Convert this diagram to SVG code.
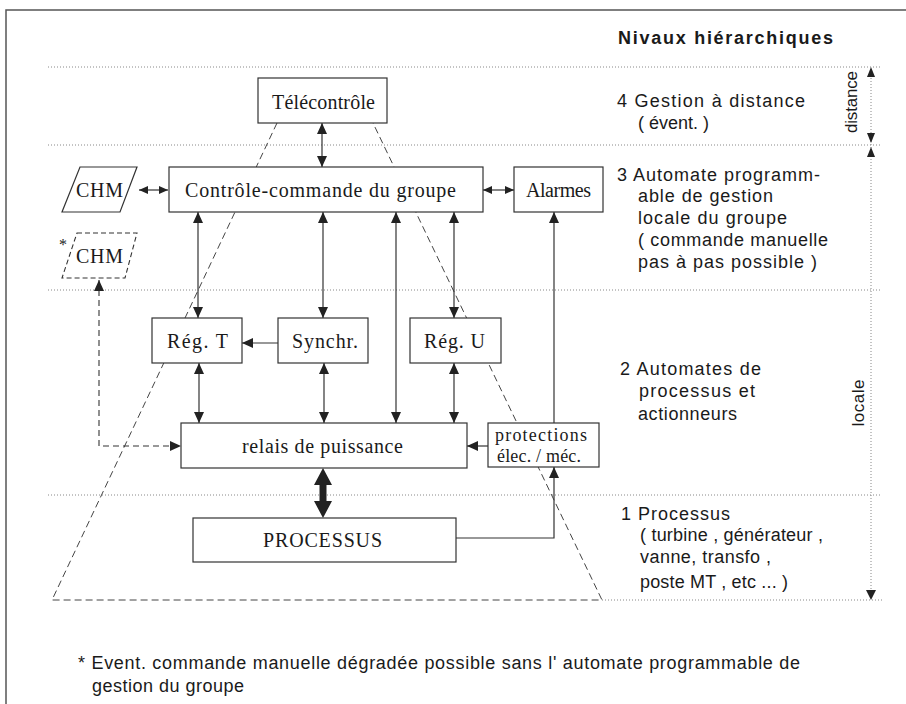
<svg xmlns="http://www.w3.org/2000/svg" width="906" height="704" viewBox="0 0 906 704">
<style>
.bg{fill:#fff}
.frame{fill:none;stroke:#555;stroke-width:1.5}
.dot{fill:none;stroke:#888;stroke-width:1;stroke-dasharray:1 2}
.dash{fill:none;stroke:#444;stroke-width:1;stroke-dasharray:7 4}
.box{fill:#fff;stroke:#333;stroke-width:1.2}
.dbox{fill:#fff;stroke:#333;stroke-width:1.1;stroke-dasharray:5 3}
.ln{fill:none;stroke:#333;stroke-width:1.2}
.dln{fill:none;stroke:#333;stroke-width:1.1;stroke-dasharray:6 4}
.hd{fill:#222}
.serif{font-family:"Liberation Serif","Times New Roman",serif;font-size:20px;fill:#1a1a1a}
.small{font-size:18px}
.sans{font-family:"Liberation Sans",Arial,sans-serif;font-size:18px;fill:#1a1a1a}
.title{font-family:"Liberation Sans",Arial,sans-serif;font-size:18px;font-weight:bold;fill:#1a1a1a}
.rot{font-family:"Liberation Sans",Arial,sans-serif;font-size:17px;fill:#1a1a1a;text-anchor:middle}
</style>
<defs>
<marker id="ah" viewBox="0 0 11 10" markerWidth="11" markerHeight="10" refX="11" refY="5" orient="auto-start-reverse" markerUnits="userSpaceOnUse">
<path d="M0,0 L11,5 L0,10 Z" fill="#222"/>
</marker>
<marker id="ahs" viewBox="0 0 9 8" markerWidth="9" markerHeight="8" refX="9" refY="4" orient="auto-start-reverse" markerUnits="userSpaceOnUse">
<path d="M0,0 L9,4 L0,8 Z" fill="#222"/>
</marker>
</defs>
<rect class="bg" x="0" y="0" width="906" height="704"/>
<g id="frame">
<path class="frame" d="M6,704 L6,10 L906,10"/>
</g>
<g id="levels">
<line class="dot" x1="48" y1="67" x2="880" y2="67"/>
<line class="dot" x1="48" y1="145" x2="880" y2="145"/>
<line class="dot" x1="48" y1="290" x2="880" y2="290"/>
<line class="dot" x1="48" y1="495" x2="882" y2="495"/>
<line class="dot" x1="602" y1="600" x2="882" y2="600"/>
<line class="dot" x1="871" y1="72" x2="871" y2="596"/>
<path class="hd" d="M871,67 L875,77 L867,77 Z"/>
<path class="hd" d="M871,143 L875,133 L867,133 Z"/>
<path class="hd" d="M871,147 L875,157 L867,157 Z"/>
<path class="hd" d="M871,600 L876,590 L866,590 Z"/>
<text class="rot" transform="translate(857,102) rotate(-90)" textLength="62">distance</text>
<text class="rot" transform="translate(864,403) rotate(-90)" textLength="47">locale</text>
</g>
<g id="pyramid">
<polyline class="dash" points="277,123 52,600 602,600 373,123"/>
</g>
<g id="connectors">
<line class="ln" x1="322" y1="123" x2="322" y2="167" marker-start="url(#ah)" marker-end="url(#ah)"/>
<line class="ln" x1="139" y1="190" x2="168" y2="190" marker-start="url(#ahs)" marker-end="url(#ahs)"/>
<line class="ln" x1="483" y1="190" x2="514" y2="190" marker-start="url(#ahs)" marker-end="url(#ahs)"/>
<line class="ln" x1="198" y1="212" x2="198" y2="318" marker-start="url(#ah)" marker-end="url(#ah)"/>
<line class="ln" x1="323" y1="212" x2="323" y2="318" marker-start="url(#ah)" marker-end="url(#ah)"/>
<line class="ln" x1="396" y1="212" x2="396" y2="423" marker-start="url(#ah)" marker-end="url(#ah)"/>
<line class="ln" x1="454" y1="212" x2="454" y2="318" marker-start="url(#ah)" marker-end="url(#ah)"/>
<line class="ln" x1="278" y1="343" x2="242" y2="343" marker-end="url(#ah)"/>
<line class="ln" x1="199" y1="363" x2="199" y2="423" marker-start="url(#ah)" marker-end="url(#ah)"/>
<line class="ln" x1="324" y1="363" x2="324" y2="423" marker-start="url(#ah)" marker-end="url(#ah)"/>
<line class="ln" x1="454" y1="363" x2="454" y2="423" marker-start="url(#ah)" marker-end="url(#ah)"/>
<line class="ln" x1="488" y1="446" x2="467" y2="446" marker-end="url(#ah)"/>
<line class="ln" x1="554" y1="423" x2="554" y2="212" marker-end="url(#ah)"/>
<polyline class="ln" points="456,538 554,538 554,467" marker-end="url(#ah)"/>
<polyline class="dln" points="99,280 99,446 181,446" marker-start="url(#ah)" marker-end="url(#ah)"/>
<path class="hd" d="M323,468 L332,485 L326.5,485 L326.5,501 L332,501 L323,518 L314,501 L319.5,501 L319.5,485 L314,485 Z"/>
</g>
<g id="telecontrole">
<rect class="box" x="258" y="78" width="129" height="45"/>
<text class="serif" x="272" y="109" textLength="103">Télécontrôle</text>
</g>
<g id="chm">
<polygon class="box" points="80,167 137,167 120,212 62,212"/>
<text class="serif" x="76" y="197" textLength="47">CHM</text>
</g>
<g id="controle">
<rect class="box" x="169" y="167" width="314" height="45"/>
<text class="serif" x="185" y="197" textLength="271">Contrôle-commande du groupe</text>
</g>
<g id="alarmes">
<rect class="box" x="514" y="167" width="89" height="45"/>
<text class="serif" x="526" y="197" textLength="65">Alarmes</text>
</g>
<g id="chm2">
<polygon class="dbox" points="77,233 137,233 125,278 62,278"/>
<text class="serif" x="76" y="263" textLength="47">CHM</text>
<text class="serif" x="59" y="250" style="font-size:16px">*</text>
</g>
<g id="regt">
<rect class="box" x="152" y="318" width="90" height="45"/>
<text class="serif" x="167" y="348" textLength="61">Rég. T</text>
</g>
<g id="synchr">
<rect class="box" x="278" y="318" width="90" height="45"/>
<text class="serif" x="292" y="348" textLength="66">Synchr.</text>
</g>
<g id="regu">
<rect class="box" x="410" y="318" width="91" height="45"/>
<text class="serif" x="424" y="348" textLength="61">Rég. U</text>
</g>
<g id="relais">
<rect class="box" x="181" y="423" width="286" height="45"/>
<text class="serif" x="242" y="453" textLength="161">relais de puissance</text>
</g>
<g id="protections">
<rect class="box" x="488" y="423" width="111" height="44"/>
<text class="serif small" x="495" y="441" textLength="92">protections</text>
<text class="serif small" x="497" y="462" textLength="84">élec. / méc.</text>
</g>
<g id="processus">
<rect class="box" x="193" y="518" width="263" height="44"/>
<text class="serif" x="263" y="547" textLength="119">PROCESSUS</text>
</g>
<g id="legend">
<text class="title" x="618" y="44" textLength="215">Nivaux  hiérarchiques</text>
<text class="sans" x="617" y="107" textLength="188">4 Gestion à distance</text>
<text class="sans" x="638" y="129">( évent. )</text>
<text class="sans" x="617" y="181" textLength="203">3 Automate programm-</text>
<text class="sans" x="638" y="202" textLength="135">able de gestion</text>
<text class="sans" x="638" y="224" textLength="149">locale du groupe</text>
<text class="sans" x="638" y="246" textLength="190">( commande manuelle</text>
<text class="sans" x="638" y="268" textLength="179">pas à pas possible )</text>
<text class="sans" x="620" y="375" textLength="141">2 Automates de</text>
<text class="sans" x="639" y="397" textLength="116">processus et</text>
<text class="sans" x="638" y="420" textLength="99">actionneurs</text>
<text class="sans" x="621" y="520" textLength="109">1 Processus</text>
<text class="sans" x="640" y="541" textLength="183">( turbine , générateur ,</text>
<text class="sans" x="640" y="563" textLength="131">vanne, transfo ,</text>
<text class="sans" x="640" y="588" textLength="148">poste MT , etc ... )</text>
</g>
<g id="footnote">
<text class="sans" x="78" y="669" textLength="722">* Event. commande manuelle dégradée possible sans l' automate programmable de</text>
<text class="sans" x="92" y="692" textLength="152">gestion du groupe</text>
</g>
</svg>
